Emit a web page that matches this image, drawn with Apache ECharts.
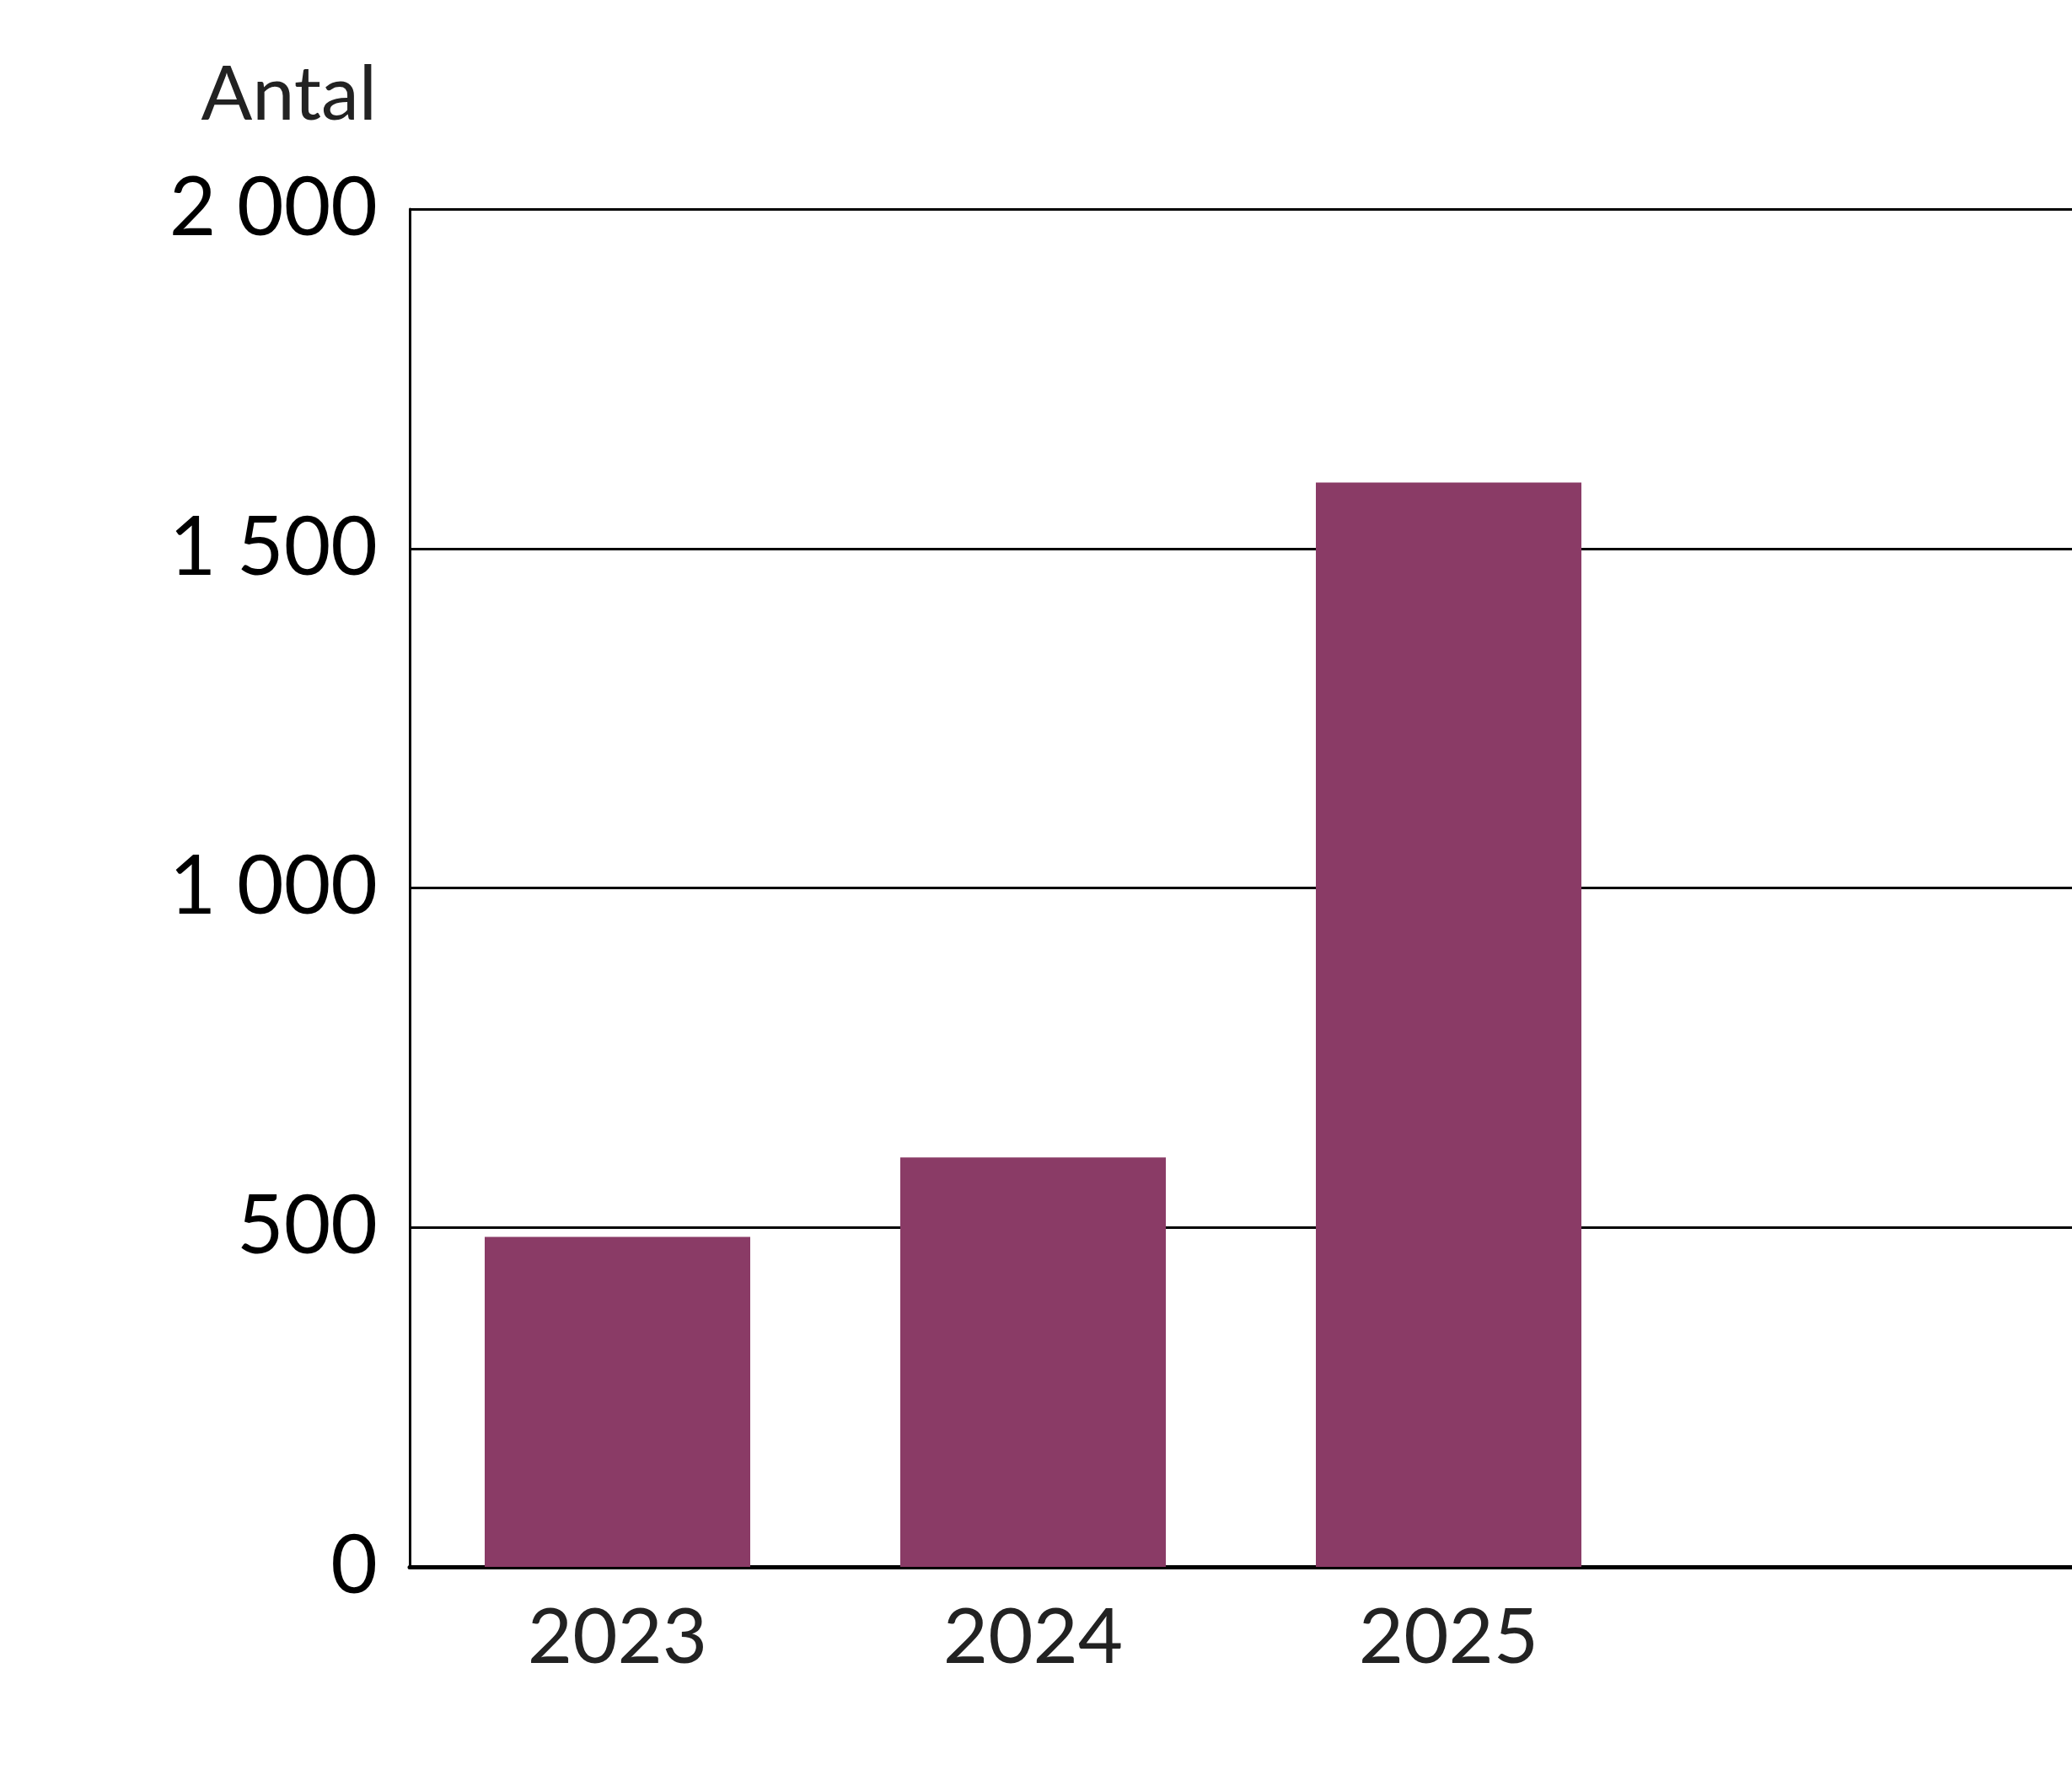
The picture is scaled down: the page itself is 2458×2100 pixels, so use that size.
<!DOCTYPE html>
<html>
<head>
<meta charset="utf-8">
<script src="https://cdn.jsdelivr.net/npm/echarts@6/dist/echarts.min.js"></script>
<style>
  html, body { margin: 0; padding: 0; background: #fff; overflow: hidden; }
  #chart { width: 2458px; height: 2100px; }
</style>
</head>
<body>
<div id="chart"></div>
<script>
// Data
const categories = ["2023", "2024", "2025", ""];
const values = [486, 603, 1597, null];
const yTicks = [0, 500, 1000, 1500, 2000];

const fmt = (v) => String(v).replace(/\B(?=(\d{3})+(?!\d))/g, " ");

const chart = echarts.init(document.getElementById("chart"));

chart.setOption({
  animation: false,
  backgroundColor: "#fff",
  textStyle: { fontFamily: "Lato" },
  graphic: [{
    type: "text",
    right: 2458 - 447,
    top: 68,
    style: { text: "Antal", font: "90px Lato", fill: "#222", textAlign: "right" }
  }],
  grid: { left: 486, width: 2257, top: 248, height: 1611 },
  xAxis: {
    type: "category",
    data: categories,
    axisLine: { lineStyle: { color: "#000", width: 5 } },
    axisTick: { show: false },
    axisLabel: { fontSize: 92, color: "#222", margin: 38 }
  },
  yAxis: {
    type: "value",
    min: yTicks[0],
    max: yTicks[yTicks.length - 1],
    interval: 500,
    axisLine: { show: true, lineStyle: { color: "#000", width: 3 } },
    axisTick: { show: false },
    splitLine: { lineStyle: { color: "#000", width: 3 } },
    axisLabel: { fontSize: 96, color: "#000", margin: 38, formatter: fmt }
  },
  series: [{
    type: "bar",
    data: values,
    barWidth: 315,
    itemStyle: { color: "#8a3b66" }
  }]
});
</script>
</body>
</html>
